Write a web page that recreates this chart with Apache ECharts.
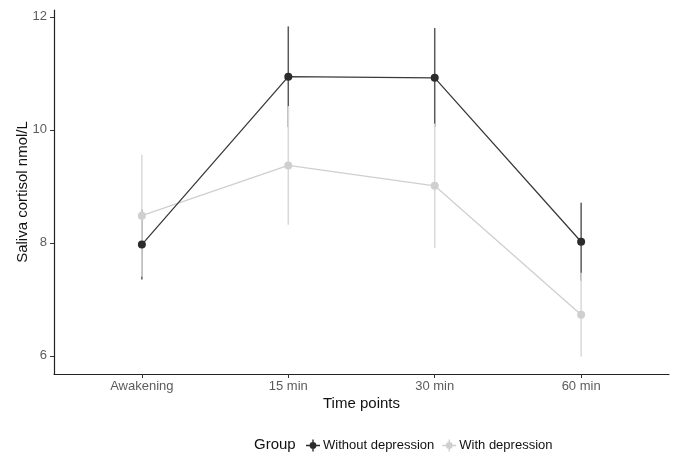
<!DOCTYPE html>
<html>
<head>
<meta charset="utf-8">
<script src="https://cdn.jsdelivr.net/npm/echarts@6/dist/echarts.min.js"></script>
<style>html,body{margin:0;padding:0;background:#fff}#c{width:676px;height:452px}</style>
</head>
<body>
<div id="c"></div>
<script>
const categories = ['Awakening', '15 min', '30 min', '60 min'];
const yTicks = [6, 8, 10, 12];
const withoutMean = [7.97, 10.94, 10.92, 8.02];
const withoutLower = [7.35, 10.05, 10.05, 7.33];
const withoutUpper = [8.59, 11.83, 11.80, 8.71];
const withMean = [8.48, 9.37, 9.01, 6.73];
const withLower = [7.40, 8.32, 7.91, 5.99];
const withUpper = [9.56, 10.42, 10.11, 7.47];
const groupNames = ['Without depression', 'With depression'];

const FONT = '"Liberation Sans", Arial, sans-serif';
const DARK = '#2b2b2b';
const LIGHT = '#cfcfcf';

function pts(vals) { return vals.map((v, i) => [i, v]); }
function bars(lo, hi) { return lo.map((v, i) => [i, v, hi[i]]); }

function errRender(color) {
  return function (params, api) {
    const a = api.coord([api.value(0), api.value(1)]);
    const b = api.coord([api.value(0), api.value(2)]);
    return {
      type: 'line',
      shape: { x1: a[0], y1: a[1], x2: b[0], y2: b[1] },
      style: { stroke: color, lineWidth: 1.5 }
    };
  };
}

const iconPath = 'path://M0,5.3h14v1.4h-14z M6.3,0h1.4v12h-1.4z M7,2.6a3.4,3.4 0 1 1 -0.001 0z';

const option = {
  animation: false,
  textStyle: { fontFamily: FONT },
  grid: { left: 54, right: 7, top: 10, bottom: 78, containLabel: false, outerBoundsMode: 'none' },
  xAxis: {
    type: 'value', min: -0.6, max: 3.6,
    name: 'Time points', nameLocation: 'middle', nameGap: 22, nameMoveOverlap: false,
    nameTextStyle: { fontSize: 15, color: '#111', fontFamily: FONT },
    axisLine: { onZero: false, lineStyle: { color: '#222', width: 1.2 } },
    axisTick: { show: true, length: 4, customValues: [0, 1, 2, 3], lineStyle: { color: '#333' } },
    axisLabel: { customValues: [0, 1, 2, 3], formatter: v => categories[Math.round(v)], fontSize: 13, color: '#5c5c5c', margin: 6, fontFamily: FONT },
    splitLine: { show: false }
  },
  yAxis: {
    type: 'value', min: 5.68, max: 12.12,
    name: 'Saliva cortisol nmol/L', nameLocation: 'middle', nameGap: 24, nameRotate: 90, nameMoveOverlap: false,
    nameTextStyle: { fontSize: 15, color: '#111', fontFamily: FONT },
    axisLine: { show: true, onZero: false, lineStyle: { color: '#222', width: 1.2 } },
    axisTick: { show: true, length: 4, customValues: yTicks, lineStyle: { color: '#333' } },
    axisLabel: { customValues: yTicks, fontSize: 13, color: '#5c5c5c', margin: 7, fontFamily: FONT },
    splitLine: { show: false }
  },
  legend: {
    left: 306, top: 439, padding: 0, itemGap: 8, itemWidth: 14, itemHeight: 12,
    icon: iconPath,
    textStyle: { fontSize: 13, color: '#111', fontFamily: FONT, padding: [0, 0, 0, -2] },
    data: [
      { name: groupNames[0], itemStyle: { color: DARK } },
      { name: groupNames[1], itemStyle: { color: LIGHT } }
    ]
  },
  graphic: [{
    type: 'text', left: 254, top: 437,
    style: { text: 'Group', fontSize: 15, fill: '#111', fontFamily: FONT }
  }],
  series: [
    { name: groupNames[0], type: 'custom', renderItem: errRender('#5a5a5a'), data: bars(withoutLower, withoutUpper), z: 1 },
    { name: groupNames[1], type: 'custom', renderItem: errRender('#d9d9d9'), data: bars(withLower, withUpper), z: 2 },
    { name: groupNames[1], type: 'line', data: pts(withMean), symbol: 'circle', symbolSize: 8,
      lineStyle: { color: LIGHT, width: 1.3 }, itemStyle: { color: LIGHT }, z: 3 },
    { name: groupNames[0], type: 'line', data: pts(withoutMean), symbol: 'circle', symbolSize: 8,
      lineStyle: { color: '#3a3a3a', width: 1.3 }, itemStyle: { color: DARK }, z: 4 }
  ]
};
echarts.init(document.getElementById('c')).setOption(option);
</script>
</body>
</html>
